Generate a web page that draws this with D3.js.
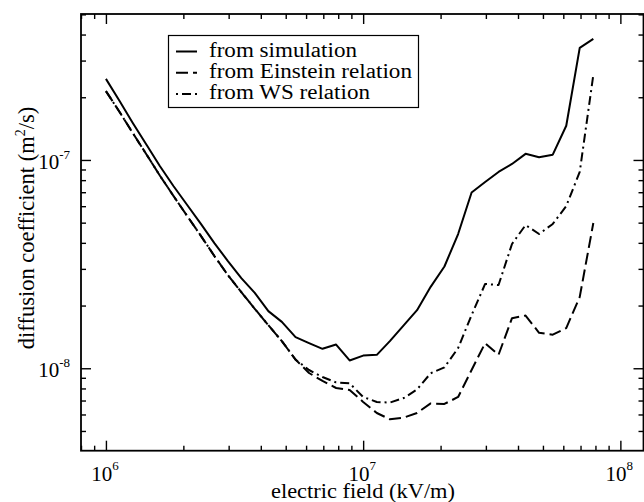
<!DOCTYPE html>
<html>
<head>
<meta charset="utf-8">
<script src="https://cdn.jsdelivr.net/npm/d3@7"></script>
<style>
    html, body { margin: 0; padding: 0; background: #fff; }
    svg { display: block; }
    svg text { font-family: "Liberation Serif", "Times New Roman", Times, serif; }
</style>
</head>
<body>
<svg id="chart" width="644" height="502"></svg>
<script>
// electric field (kV/m)
const field = [
    1.00e6, 1.13e6, 1.27e6, 1.44e6, 1.62e6, 1.83e6, 2.07e6, 2.34e6, 2.64e6, 2.98e6,
    3.36e6, 3.79e6, 4.28e6, 4.83e6, 5.46e6, 6.16e6, 6.95e6, 7.85e6, 8.86e6, 1.00e7,
    1.13e7, 1.27e7, 1.44e7, 1.62e7, 1.83e7, 2.07e7, 2.34e7, 2.64e7, 2.98e7, 3.36e7,
    3.79e7, 4.28e7, 4.83e7, 5.46e7, 6.16e7, 6.95e7, 7.85e7
];

// diffusion coefficient (m^2/s)
const simulation = [
    2.45e-7, 1.92e-7, 1.51e-7, 1.18e-7, 9.36e-8, 7.50e-8, 6.08e-8, 4.93e-8, 3.99e-8, 3.27e-8,
    2.71e-8, 2.30e-8, 1.88e-8, 1.67e-8, 1.41e-8, 1.32e-8, 1.24e-8, 1.30e-8, 1.09e-8, 1.15e-8,
    1.16e-8, 1.35e-8, 1.61e-8, 1.90e-8, 2.46e-8, 3.08e-8, 4.41e-8, 6.98e-8, 7.84e-8, 8.76e-8,
    9.57e-8, 1.07e-7, 1.03e-7, 1.06e-7, 1.46e-7, 3.45e-7, 3.81e-7
];
const einstein = [
    2.14e-7, 1.70e-7, 1.35e-7, 1.06e-7, 8.42e-8, 6.72e-8, 5.38e-8, 4.32e-8, 3.46e-8, 2.80e-8,
    2.32e-8, 1.93e-8, 1.61e-8, 1.35e-8, 1.10e-8, 9.49e-9, 8.69e-9, 8.04e-9, 7.87e-9, 6.89e-9,
    6.10e-9, 5.69e-9, 5.80e-9, 6.10e-9, 6.78e-9, 6.74e-9, 7.28e-9, 9.81e-9, 1.32e-8, 1.16e-8,
    1.74e-8, 1.79e-8, 1.48e-8, 1.45e-8, 1.56e-8, 2.20e-8, 4.98e-8
];
const wsRelation = [
    2.14e-7, 1.70e-7, 1.35e-7, 1.06e-7, 8.42e-8, 6.72e-8, 5.38e-8, 4.32e-8, 3.46e-8, 2.80e-8,
    2.32e-8, 1.93e-8, 1.61e-8, 1.35e-8, 1.10e-8, 9.81e-9, 9.08e-9, 8.55e-9, 8.47e-9, 7.28e-9,
    6.89e-9, 6.84e-9, 7.20e-9, 7.91e-9, 9.46e-9, 1.01e-8, 1.25e-8, 1.80e-8, 2.54e-8, 2.51e-8,
    3.95e-8, 4.87e-8, 4.41e-8, 4.93e-8, 6.01e-8, 8.76e-8, 2.56e-7
];

const xMajor = [1e6, 1e7, 1e8];
const xExponents = ["6", "7", "8"];
const yMajor = [1e-8, 1e-7];
const yExponents = ["-8", "-7"];

const legendLabels = ["from simulation", "from Einstein relation", "from WS relation"];

const series = [
    {values: simulation, dash: null, legendOffset: 0},
    {values: einstein, dash: "12,5", legendOffset: 0},
    {values: wsRelation, dash: "9,4,2,4", legendOffset: 13},
];

const plotLeft = 81, plotRight = 643.5, plotTop = 14, plotBottom = 450.7;

const svg = d3.select("#chart");

const x = d3.scaleLog().domain([8e5, 1.23e8]).range([plotLeft, plotRight]);
const y = d3.scaleLog().domain([4.02e-9, 5.02e-7]).range([plotBottom, plotTop]);

const isMajor = v => Math.abs(Math.log10(v) - Math.round(Math.log10(v))) < 1e-9;
const xMinor = x.ticks().filter(v => !isMajor(v));
const yMinor = y.ticks().filter(v => !isMajor(v));

// ticks point inwards on all four sides
function tickAxis(axis, values, size, transform)
{
    svg.append("g")
        .attr("transform", transform)
        .call(axis.tickValues(values).tickSize(-size).tickFormat(""))
        .call(g => g.select(".domain").remove())
        .call(g => g.selectAll("line").attr("stroke", "#000").attr("stroke-width", 1.4));
}

tickAxis(d3.axisBottom(x), xMinor, 5, `translate(0,${plotBottom})`);
tickAxis(d3.axisBottom(x), xMajor, 10, `translate(0,${plotBottom})`);
tickAxis(d3.axisTop(x), xMinor, 5, `translate(0,${plotTop})`);
tickAxis(d3.axisTop(x), xMajor, 10, `translate(0,${plotTop})`);
tickAxis(d3.axisLeft(y), yMinor, 5, `translate(${plotLeft},0)`);
tickAxis(d3.axisLeft(y), yMajor, 10, `translate(${plotLeft},0)`);
tickAxis(d3.axisRight(y), yMinor, 5, `translate(${plotRight},0)`);
tickAxis(d3.axisRight(y), yMajor, 10, `translate(${plotRight},0)`);

svg.append("rect")
    .attr("x", plotLeft)
    .attr("y", plotTop)
    .attr("width", plotRight - plotLeft)
    .attr("height", plotBottom - plotTop)
    .attr("fill", "none")
    .attr("stroke", "#000")
    .attr("stroke-width", 1.8);

// tick labels: 10 with a superscript exponent
const xLabel = svg.append("g").selectAll("text")
    .data(xMajor)
    .join("text")
    .attr("x", d => x(d) - 1)
    .attr("y", 480.5)
    .attr("text-anchor", "middle")
    .attr("font-size", 21);
xLabel.append("tspan").text("10");
xLabel.append("tspan").attr("dy", -11).attr("font-size", 13).text((d, i) => xExponents[i]);

const yLabel = svg.append("g").selectAll("text")
    .data(yMajor)
    .join("text")
    .attr("x", 70)
    .attr("y", d => y(d) + 9)
    .attr("text-anchor", "end")
    .attr("font-size", 21);
yLabel.append("tspan").text("10");
yLabel.append("tspan").attr("dy", -10).attr("font-size", 13).text((d, i) => yExponents[i]);

// axis titles
svg.append("text")
    .attr("x", 363)
    .attr("y", 498)
    .attr("text-anchor", "middle")
    .attr("font-size", 21)
    .attr("textLength", 184)
    .attr("lengthAdjust", "spacingAndGlyphs")
    .text("electric field (kV/m)");

const yTitle = svg.append("text")
    .attr("transform", "translate(34,228) rotate(-90)")
    .attr("text-anchor", "middle")
    .attr("font-size", 22.5);
yTitle.append("tspan").text("diffusion coefficient (m");
yTitle.append("tspan").attr("dy", -9).attr("font-size", 14).text("2");
yTitle.append("tspan").attr("dy", 9).text("/s)");

// curves
const line = d3.line()
    .x((d, i) => x(field[i]))
    .y(d => y(d));

svg.append("g")
    .attr("fill", "none")
    .attr("stroke", "#000")
    .attr("stroke-width", 2)
    .attr("stroke-linejoin", "round")
    .selectAll("path")
    .data(series)
    .join("path")
    .attr("stroke-dasharray", d => d.dash)
    .attr("d", d => line(d.values));

// legend
svg.append("rect")
    .attr("x", 168.5)
    .attr("y", 35.5)
    .attr("width", 250)
    .attr("height", 72)
    .attr("fill", "#fff")
    .attr("stroke", "#000")
    .attr("stroke-width", 1.2);

const legendLengths = [148, 203, 161];

const legend = svg.append("g")
    .selectAll("g")
    .data(series)
    .join("g")
    .attr("transform", (d, i) => `translate(0, ${56.5 + i * 21.2})`);

legend.append("line")
    .attr("x1", 176)
    .attr("x2", 197)
    .attr("y1", -5)
    .attr("y2", -5)
    .attr("stroke", "#000")
    .attr("stroke-width", 2)
    .attr("stroke-dasharray", d => d.dash)
    .attr("stroke-dashoffset", d => d.legendOffset);

legend.append("text")
    .attr("x", 209)
    .attr("font-size", 20)
    .attr("textLength", (d, i) => legendLengths[i])
    .attr("lengthAdjust", "spacingAndGlyphs")
    .text((d, i) => legendLabels[i]);
</script>
</body>
</html>
